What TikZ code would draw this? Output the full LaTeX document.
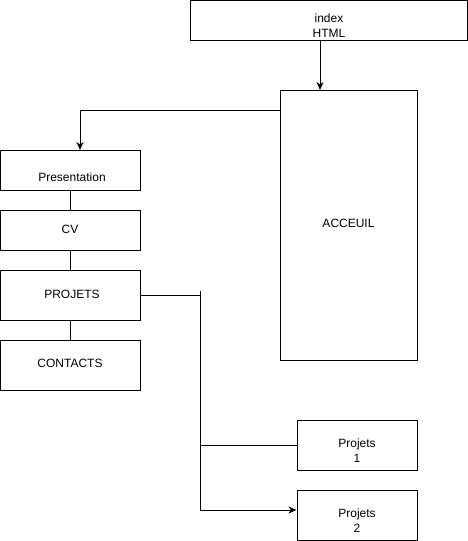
\documentclass[tikz,border=0pt]{standalone}
\usepackage{fontspec}
\setmainfont{Liberation Sans}
\usetikzlibrary{arrows.meta}
\begin{document}
\begin{tikzpicture}[x=1pt,y=-1pt,
  box/.style={draw,line width=1pt,inner sep=0pt},
  lbl/.style={font=\fontsize{12}{15}\selectfont,align=center,inner sep=0pt},
  conn/.style={line width=1pt},
  arr/.style={conn,-{Stealth[length=8pt,width=7pt,inset=2.5pt]}}]
\useasboundingbox (0,0) rectangle (468,541);
\fill[white] (0,0) rectangle (468,541);
% boxes
\node[box,minimum width=277pt,minimum height=40pt] (index) at (329,20.5) {};
\node[lbl] at (329,26) {index\\HTML};

\node[box,minimum width=137pt,minimum height=270pt] (acc) at (348.5,225) {};
\node[lbl] at (348.5,223) {ACCEUIL};

\node[box,minimum width=140pt,minimum height=40pt] (pres) at (70,170) {};
\node[lbl] at (72,177) {Presentation};

\node[box,minimum width=140pt,minimum height=40pt] (cv) at (70,230) {};
\node[lbl] at (70,229) {CV};

\node[box,minimum width=140pt,minimum height=50pt] (proj) at (70,295) {};
\node[lbl] at (72,294) {PROJETS};

\node[box,minimum width=140pt,minimum height=50pt] (cont) at (70,365) {};
\node[lbl] at (70,363) {CONTACTS};

\node[box,minimum width=120pt,minimum height=50pt] (p1) at (357,445) {};
\node[lbl] at (357,451) {Projets\\1};

\node[box,minimum width=120pt,minimum height=50pt] (p2) at (357,515) {};
\node[lbl] at (357,521) {Projets\\2};

% connectors
\coordinate (idxb) at (320,40.5);
\draw[arr] (idxb) -- (320,90);
\coordinate (accl) at (280,110);
\draw[arr] (accl) -- (80,110) -- (80,150);
\draw[conn] (pres.south) -- (cv.north);
\draw[conn] (cv.south) -- (proj.north);
\draw[conn] (proj.south) -- (cont.north);
\coordinate (vtop) at (200,291);
\coordinate (vbot) at (200,510);
\draw[conn] (proj.east) -- (200,295);
\draw[conn] (vtop) -- (vbot);
\draw[conn] (200,445) -- (p1.west);
\draw[arr] (vbot) -- (p2.west |- vbot);
\end{tikzpicture}
\end{document}
